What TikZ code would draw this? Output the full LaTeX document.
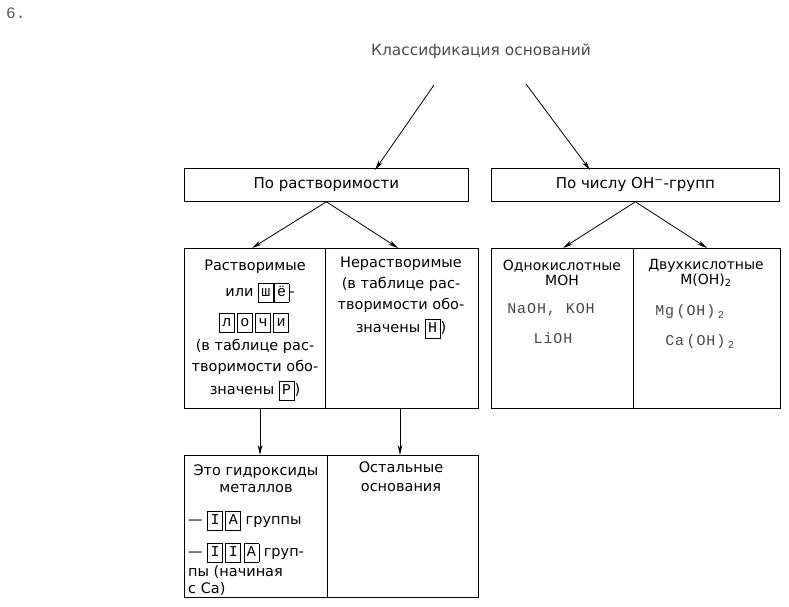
\documentclass[tikz,border=0pt]{standalone}
\usepackage{fontspec}
\setmainfont{DejaVu Sans}
\newfontfamily\tfont{DejaVu Sans}
\newfontfamily\lserif{Liberation Mono}
\newfontfamily\cmono[LetterSpace=6]{Liberation Mono}
\usetikzlibrary{arrows.meta}
\newcommand\lbx[1]{{\fboxsep=1.4pt\fboxrule=0.7pt\fbox{\makebox[11.5pt]{\rule[-4pt]{0pt}{15pt}\lserif\fontsize{15}{16}\selectfont #1}}}}
\tikzset{
  cell/.style={draw, line width=0.8pt, inner sep=0pt, anchor=north west},
  hdr/.style={draw, line width=0.8pt, inner sep=0pt, anchor=north west},
  txt/.style={inner sep=0pt, font=\fontsize{14.5}{17}\selectfont},
  chem/.style={inner sep=0pt, text=black!72, font=\cmono\fontsize{15}{17}\selectfont},
  arr/.style={line width=0.8pt, -{Stealth[length=10pt,width=4.5pt]}},
}
\begin{document}
\begin{tikzpicture}[x=1pt,y=-1pt]
\useasboundingbox (0,0) rectangle (789,607);
\node[inner sep=0pt, anchor=west, text=black!65, font=\lserif\fontsize{16}{17}\selectfont] (num) at (6,13) {6.};
\node[inner sep=0pt, text=black!70, font=\tfont\fontsize{15.4}{17}\selectfont] (title) at (481,51) {Классификация оснований};

% header boxes
\node[hdr, minimum width=284pt, minimum height=33pt] (r1) at (184,168) {};
\node[txt, font=\fontsize{15}{17}\selectfont] (r1t) at (r1) {По растворимости};
\node[hdr, minimum width=288pt, minimum height=33pt] (r2) at (491,168) {};
\node[txt, font=\fontsize{15}{17}\selectfont] (r2t) at (r2) {По числу OH\textsuperscript{−}-групп};

% top arrows
\coordinate (a1) at (434,85);
\coordinate (a2) at (526,84);
\draw[arr] (a1) -- ([xshift=191pt,yshift=-2pt]r1.north west);
\draw[arr] (a2) -- ([xshift=99pt,yshift=-2pt]r2.north west);

% cells level 2
\node[cell, minimum width=141pt, minimum height=160pt] (sol) at (184,248) {};
\node[cell, minimum width=153pt, minimum height=160pt] (ins) at (325,248) {};
\node[cell, minimum width=142pt, minimum height=160pt] (one) at (491,248) {};
\node[cell, minimum width=147pt, minimum height=160pt] (two) at (633,248) {};

% arrows from headers
\coordinate (b1) at (r1.south);
\coordinate (b2) at (r2.south);
\draw[arr] (b1) -- ([xshift=68pt]sol.north west);
\draw[arr] (b1) -- ([xshift=73pt]ins.north west);
\draw[arr] (b2) -- ([xshift=72pt]one.north west);
\draw[arr] (b2) -- ([xshift=74pt]two.north west);

% soluble text
\node[txt] (s1) at (255,267) {Растворимые};
\node[txt] (s2) at (260,293) {или \lbx{ш}\lbx{ё}-};
\node[txt] (s3) at (254,323) {\lbx{л}\,\lbx{о}\,\lbx{ч}\,\lbx{и}};
\node[txt] (s4) at (255,346) {(в таблице рас-};
\node[txt] (s5) at (255,367) {творимости обо-};
\node[txt] (s6) at (255,391) {значены \lbx{Р})};

% insoluble text
\node[txt] (n1) at (401,264) {Нерастворимые};
\node[txt] (n2) at (401,284) {(в таблице рас-};
\node[txt] (n3) at (401,305) {творимости обо-};
\node[txt] (n4) at (401,329) {значены \lbx{Н})};

% one / two acid
\node[txt, align=center, font=\fontsize{14}{15}\selectfont] (o1) at (562,273) {Однокислотные\\MOH};
\node[chem] (o2) at (551,310) {NaOH, KOH};
\node[chem] (o3) at (553,338) {LiOH};
\node[txt, align=center, font=\fontsize{14}{15}\selectfont] (w1) at (706,273) {Двухкислотные\\M(OH)\textsubscript{2}};
\node[chem] (w2) at (690,312) {Mg\,(OH)\,\textsubscript{2}};
\node[chem] (w3) at (700,342) {Ca\,(OH)\,\textsubscript{2}};

% bottom cells
\node[cell, minimum width=143pt, minimum height=142pt] (hyd) at (184,455) {};
\node[cell, minimum width=151pt, minimum height=142pt] (rest) at (327,455) {};
\draw[arr] ([xshift=76pt]sol.south west) -- ([xshift=76pt]hyd.north west);
\draw[arr] ([xshift=75pt]ins.south west) -- ([xshift=73pt]rest.north west);

\node[txt, align=center, font=\fontsize{14.5}{17}\selectfont] (h1) at (256,479) {Это гидроксиды\\металлов};
\node[txt, anchor=west] (h2) at (188,521) {— \lbx{I}\,\lbx{A} группы};
\node[txt, anchor=west] (h3) at (188,553) {— \lbx{I}\,\lbx{I}\,\lbx{A} груп-};
\node[txt, anchor=west] (h4) at (188,572) {пы (начиная};
\node[txt, anchor=west] (h5) at (188,589) {с Ca)};
\node[txt, align=center, font=\fontsize{14.5}{19}\selectfont] (t1) at (401,477) {Остальные\\основания};
\end{tikzpicture}
\end{document}
